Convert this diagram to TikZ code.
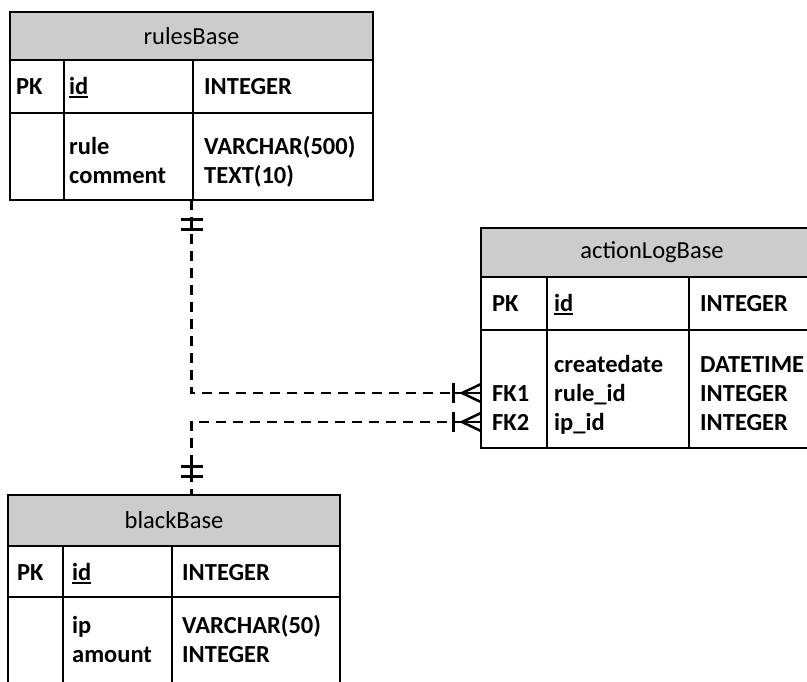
\documentclass[tikz,border=0pt]{standalone}
\usepackage{fontspec}
\setmainfont{Carlito}
\usepackage{xcolor}
\usepackage{tikz}

\definecolor{hdrgray}{RGB}{204,204,204}
\newcommand{\keyul}[1]{\setbox0\hbox{#1}\rlap{\rule[-4pt]{\wd0}{1.8pt}}\box0}

\tikzset{
	tbl/.style={draw, line width=1.8pt, anchor=north west, inner sep=0pt, outer sep=0pt},
	hdr/.style={tbl, fill=hdrgray, font=\fontsize{24.5}{29}\selectfont},
	fld/.style={anchor=base west, inner sep=0pt, font=\fontsize{24.5}{29}\selectfont\bfseries},
	rel/.style={line width=2.5pt, dash pattern=on 10pt off 7pt},
	erbar/.style={line width=3pt},
	erlink/.style={line width=2.5pt},
	twobar/.pic={
		\draw[erbar] (-11,19) -- (11,19) (-11,29) -- (11,29);
		\draw[erlink] (0,19) -- (0,29);
	},
	crowfoot/.pic={
		\draw[erbar] (-28,-10) -- (-28,10);
		\draw[erlink] (-28,0) -- (0,0);
		\draw[erlink] (0,-9) -- (-19,0) -- (0,9);
	},
}

\begin{document}
\begin{tikzpicture}[x=1pt, y=-1pt]
				\useasboundingbox (0,0) rectangle (807,681);
				\clip (0,0) rectangle (807,681);
				
				% rulesBase
				\node[tbl, minimum width=363pt, minimum height=188pt] (rules) at (10,12) {};
				\node[hdr, minimum width=363pt, minimum height=48pt] (rulesHead) at (rules.north west) {rulesBase};
				\draw[line width=1.8pt] (10,113) -- (373,113) (64,60) -- (64,200) (193,60) -- (193,200);
				\node[fld] (rulesPK) at (16,94) {PK};
				\node[fld] (rulesId) at (69,94) {\keyul{id}};
				\node[fld] (rulesIdT) at (204,94) {INTEGER};
				\foreach \t/\ty/\y [count=\i] in {rule/VARCHAR(500)/154, comment/TEXT(10)/183} {
					\node[fld] (rulesF\i) at (69,\y) {\t};
					\node[fld] (rulesT\i) at (204,\y) {\ty};
				}
				
				% actionLogBase
				\node[tbl, minimum width=342pt, minimum height=220pt] (logBox) at (481,228) {};
				\node[hdr, minimum width=342pt, minimum height=49pt] (logHead) at (logBox.north west) {actionLogBase};
				\draw[line width=1.8pt] (481,330) -- (823,330) (547,277) -- (547,448) (689,277) -- (689,448);
				\node[fld] (logPK) at (492,311) {PK};
				\node[fld] (logId) at (554,311) {\keyul{id}};
				\node[fld] (logIdT) at (700,311) {INTEGER};
				\foreach \t/\ty/\y [count=\i] in {createdate/DATETIME/372, rule\_id/INTEGER/401, ip\_id/INTEGER/430} {
					\node[fld] (logF\i) at (554,\y) {\t};
					\node[fld] (logT\i) at (700,\y) {\ty};
				}
				\node[fld] (fkone) at (492,401) {FK1};
				\node[fld] (fktwo) at (492,430) {FK2};
				
				% blackBase
				\node[tbl, minimum width=332pt, minimum height=200pt] (black) at (8,495) {};
				\node[hdr, minimum width=332pt, minimum height=51pt] (blackHead) at (black.north west) {blackBase};
				\draw[line width=1.8pt] (8,597) -- (340,597) (63,546) -- (63,695) (172,546) -- (172,695);
				\node[fld] (blackPK) at (17,580) {PK};
				\node[fld] (blackId) at (72,580) {\keyul{id}};
				\node[fld] (blackIdT) at (182,580) {INTEGER};
				\foreach \t/\ty/\y [count=\i] in {ip/VARCHAR(50)/633, amount/INTEGER/662} {
					\node[fld] (blackF\i) at (72,\y) {\t};
					\node[fld] (blackT\i) at (182,\y) {\ty};
				}
				
				% relations
				\draw[rel] (rules.south) |- (logBox.west |- fkone);
				\draw[rel] (logBox.west |- fktwo) -| (rules.south |- black.north);
				\pic at (rules.south) {twobar};
				\pic[rotate=180] at (rules.south |- black.north) {twobar};
				\pic at (logBox.west |- fkone) {crowfoot};
				\pic at (logBox.west |- fktwo) {crowfoot};
				
\end{tikzpicture}
\end{document}
